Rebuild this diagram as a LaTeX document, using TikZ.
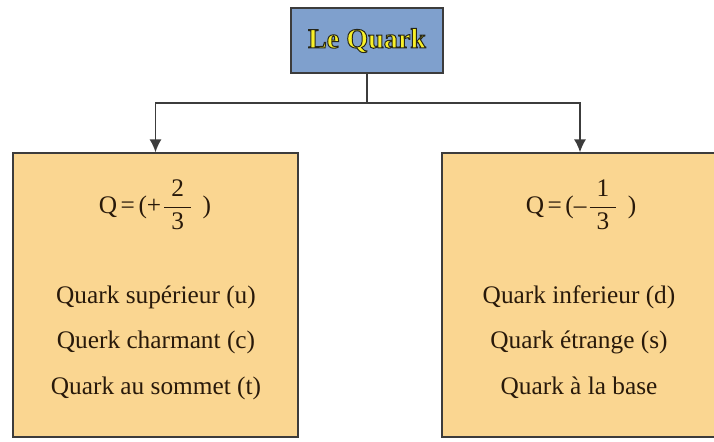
\documentclass[tikz,border=0pt]{standalone}
\usepackage{amsmath}
\usepackage{fontspec}
\setmainfont{Liberation Serif}
\usetikzlibrary{positioning,arrows.meta}
\definecolor{bleuq}{RGB}{127,160,205}
\definecolor{oranq}{RGB}{250,214,145}
\definecolor{traitq}{RGB}{60,60,60}
\definecolor{texteq}{RGB}{40,25,10}
\definecolor{jauneq}{RGB}{248,240,40}
% texte jaune avec contour sombre (mode de rendu pdf)
\newcommand{\contourq}[1]{\special{pdf:literal 2 Tr 0.7 w 0.15 0.15 0.1 RG}#1\special{pdf:literal 0 Tr}}
% charge en fraction
\newcommand{\chargeq}[2]{Q\hspace{2.5pt}=\hspace{2.5pt}(#1\hspace{1pt}$\dfrac{\hspace{5pt}\textrm{#2}\hspace{5pt}}{\textrm{3}}$\hspace{7pt})}

\begin{document}
\begin{tikzpicture}[x=0.025cm, y=-0.025cm, font=\fontsize{18}{22}\selectfont,
  titre/.style={draw=traitq, line width=1pt, fill=bleuq, minimum width=3.8cm, minimum height=1.625cm},
  famille/.style={draw=traitq, line width=1pt, fill=oranq, minimum height=7.1cm},
  ligne/.style={text=texteq, inner sep=0pt},
  fil/.style={draw=traitq, line width=1.1pt}]
\useasboundingbox (0,0) rectangle (714,441);
% titre
\node[titre, text=jauneq] (quark) at (367,40.5)
  {\fontsize{20}{24}\selectfont\bfseries\contourq{Le Quark}};
% les deux familles
\node[famille, minimum width=7.125cm] (haut) at (155.5,295) {};
\node[famille, minimum width=6.9cm] (bas) at (580,295) {};
% liaisons
\coordinate (split) at (367,103);
\draw[fil] (quark.south) -- (split);
\draw[fil, -{Latex[length=0.32cm,width=0.3cm]}] (split) -| (haut.north);
\draw[fil, -{Latex[length=0.32cm,width=0.3cm]}] (split) -| (bas.north);
% charge +2/3
\node[ligne] (qhaut) at (155,205) {\chargeq{+}{2}};
\node[ligne] (up) at (156,297) {Quark supérieur (u)};
\node[ligne] (charm) at (156,342) {Querk charmant (c)};
\node[ligne] (top) at (156,388) {Quark au sommet (t)};
% charge -1/3
\node[ligne] (qbas) at (581,205) {\chargeq{--}{1}};
\node[ligne] (down) at (579,297) {Quark inferieur (d)};
\node[ligne] (strange) at (579,342) {Quark étrange (s)};
\node[ligne] (bottom) at (579,388) {Quark à la base};
\end{tikzpicture}
\end{document}
